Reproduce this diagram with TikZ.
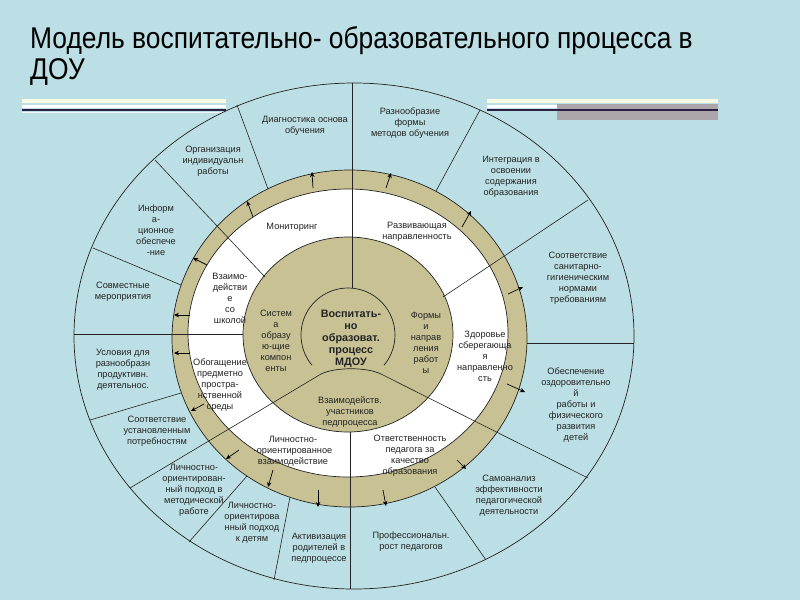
\documentclass[tikz,border=0pt]{standalone}
\usepackage{fontspec}
\setmainfont{Liberation Sans}
\newfontfamily\titlefont[FakeStretch=0.88]{Liberation Sans}
\usetikzlibrary{calc,arrows.meta}
\definecolor{bg}{RGB}{187,223,228}
\definecolor{olive}{RGB}{199,193,148}
\definecolor{ink}{RGB}{35,35,35}
\definecolor{navy}{RGB}{45,30,70}
\definecolor{cream}{RGB}{250,250,228}
\definecolor{bargray}{RGB}{172,166,172}
\begin{document}
\begin{tikzpicture}[x=1pt,y=-1pt,
  lbl/.style={align=center,inner sep=0pt,font=\fontsize{9.2}{11}\selectfont,text=ink},
  ctr/.style={align=center,inner sep=0pt,font=\bfseries\fontsize{10.8}{12}\selectfont,text=ink},
  divline/.style={draw=ink,line width=0.6pt},
  ringarrow/.style={draw=black,line width=0.7pt,-{Stealth[length=5pt,width=4.5pt]}},
  ringedge/.style={draw=ink,line width=0.7pt}]
\useasboundingbox (0,0) rectangle (800,600);
\fill[bg] (0,0) rectangle (800,600);
% title
\node[anchor=base west,inner sep=0pt,font=\titlefont\fontsize{30}{32}\selectfont] (t1) at (30,48) {Модель воспитательно- образовательного процесса в};
\node[anchor=base west,inner sep=0pt,font=\titlefont\fontsize{30}{32}\selectfont] (t2) at (30,79) {ДОУ};
% decorative bars
\fill[cream] (22,99) rectangle (226,103);
\fill[white] (22,105) rectangle (226,107.5);
\fill[navy] (22,109) rectangle (226,111);
\fill[white!70!bg] (22,111.5) rectangle (226,113);
\fill[cream] (487,99) rectangle (718,103);
\fill[bargray] (557,104) rectangle (718,120);
\fill[white] (487,105) rectangle (557,107.5);
\fill[navy] (487,109) rectangle (718,111);
% rings
\draw[ringedge,fill=bg] (354,336) ellipse [x radius=280, y radius=253];
\draw[ringedge,fill=olive] (349.5,338.5) ellipse [x radius=177.5, y radius=168.5];
\draw[ringedge,fill=white] (348,333) ellipse [x radius=160, y radius=144];
\draw[ringedge,fill=olive] (348,334.5) ellipse [x radius=105, y radius=97.5];
% inner circle with notch
\draw[ringedge] (384,365.2) arc[start angle=40, end angle=-220, radius=47];
\coordinate (nl) at (321,374);
\coordinate (nr) at (381,374);
\draw[ringedge] (nl) .. controls (335,367) and (367,367) .. (nr);
% dividers
\draw[divline] (352,288) -- (352,83);
\draw[divline] (436,191) -- (480,110);
\draw[divline] (443,297) -- (588,200);
\draw[divline] (527,343) -- (634,343);
\draw[divline] (nr) -- (588,478);
\draw[divline] (435,487) -- (486,560);
\draw[divline] (350,432) -- (350,589);
\draw[divline] (290,497) -- (274,580);
\draw[divline] (247,476) -- (189,542);
\draw[divline] (nl) -- (130,488);
\draw[divline] (181,393) -- (90,420);
\draw[divline] (243,334) -- (74,334);
\draw[divline] (181,285) -- (93,248);
\draw[divline] (265,277) -- (155,160);
\draw[divline] (268,189) -- (237,105);
% arrows in the olive ring
\draw[ringarrow] (313,188) -- (312,172);
\draw[ringarrow] (386,188) -- (391,173);
\draw[ringarrow] (462,227) -- (471,211);
\draw[ringarrow] (508,294) -- (523,287);
\draw[ringarrow] (507,384) -- (525,392);
\draw[ringarrow] (457,460) -- (466,469);
\draw[ringarrow] (383,490) -- (386,506);
\draw[ringarrow] (318,490) -- (318,507);
\draw[ringarrow] (273,470) -- (268,487);
\draw[ringarrow] (239,450) -- (226,459);
\draw[ringarrow] (204,404) -- (191,411);
\draw[ringarrow] (190,353) -- (174,353);
\draw[ringarrow] (190,315) -- (174,315);
\draw[ringarrow] (207,265) -- (193,258);
\draw[ringarrow] (253,217) -- (247,201);
% outer ring labels
\node[lbl] (o1) at (305,126) {Диагностика основа\\обучения};
\node[lbl] (o2) at (410,123) {Разнообразие\\формы\\методов обучения};
\node[lbl] (o3) at (511,177) {Интеграция в\\освоении\\содержания\\образования};
\node[lbl] (o4) at (578,278) {Соответствие\\санитарно-\\гигиеническим\\нормами\\требованиям};
\node[lbl] (o5) at (576,405) {Обеспечение\\оздоровительно\\й\\работы и\\физического\\развития\\детей};
\node[lbl] (o6) at (509,496) {Самоанализ\\эффективности\\педагогической\\деятельности};
\node[lbl] (o7) at (411,542) {Профессиональн.\\рост педагогов};
\node[lbl] (o8) at (319,548) {Активизация\\родителей в\\педпроцессе};
\node[lbl] (o9) at (252,523) {Личностно-\\ориентирова\\нный подход\\к детям};
\node[lbl] (o10) at (194,490) {Личностно-\\ориентирован-\\ный подход в\\методической\\работе};
\node[lbl] (o11) at (157,431) {Соответствие\\установленным\\потребностям};
\node[lbl] (o12) at (123,370) {Условия для\\разнообразн\\продуктивн.\\деятельнос.};
\node[lbl] (o13) at (123,292) {Совместные\\мероприятия};
\node[lbl] (o14) at (156,230) {Информ\\а-\\ционное\\обеспече\\-ние};
\node[lbl] (o15) at (213,161) {Организация\\индивидуальн\\работы};
% white ring labels
\node[lbl] (w1) at (292,227) {Мониторинг};
\node[lbl] (w2) at (417,232) {Развивающая\\направленность};
\node[lbl] (w3) at (485,356) {Здоровье\\сберегающа\\я\\направленно\\сть};
\node[lbl] (w4) at (410,456) {Ответственность\\педагога за\\качество\\образования};
\node[lbl] (w5) at (293,451) {Личностно-\\-ориентированное\\взаимодействие};
\node[lbl] (w6) at (220,385) {Обогащение\\предметно\\простра-\\нственной\\среды};
\node[lbl] (w7) at (230,298) {Взаимо-\\действи\\е\\со\\школой};
% tan disk labels
\node[lbl] (d1) at (276,341) {Систем\\а\\образу\\ю-щие\\компон\\енты};
\node[lbl] (d2) at (426,343) {Формы\\и\\направ\\ления\\работ\\ы};
\node[lbl] (d3) at (350,412) {Взаимодейств.\\участников\\педпроцесса};
% centre
\node[ctr] (c) at (351,339) {Воспитать-\\но\\образоват.\\процесс\\МДОУ};
\end{tikzpicture}
\end{document}
